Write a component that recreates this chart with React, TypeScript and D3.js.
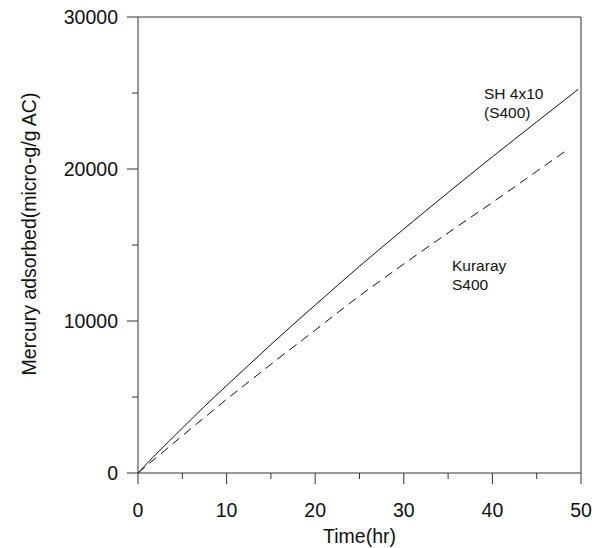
import React from "react";
import * as d3 from "d3";

// Data
const shTime = [0, 1, 2, 3, 5, 7.5, 10, 12.5, 15, 20, 25, 30, 35, 40, 45, 49.7];
const shMercury = [0, 620, 1220, 1800, 2950, 4380, 5750, 7100, 8450, 11050, 13600, 16050, 18450, 20800, 23100, 25250];
const kurTime = [0, 1, 2, 3, 5, 7.5, 10, 12.5, 15, 20, 25, 30, 35, 40, 45, 48.3];
const kurMercury = [0, 500, 980, 1470, 2450, 3650, 4850, 6000, 7150, 9400, 11650, 13750, 15800, 17800, 19850, 21200];

const xMajorTicks = [0, 10, 20, 30, 40, 50];
const xMinorTicks = [5, 15, 25, 35, 45];
const yMajorTicks = [0, 10000, 20000, 30000];
const yMinorTicks = [5000, 15000, 25000];

const xTitle = "Time(hr)";
const yTitle = "Mercury adsorbed(micro-g/g AC)";
const shLabel = ["SH 4x10", "(S400)"];
const kurLabel = ["Kuraray", "S400"];

const W = 607;
const H = 548;
const M = { left: 138, right: 581, top: 17, bottom: 473 };
const FONT = "'Liberation Sans', Arial, Helvetica, sans-serif";
const AXIS = "#333";

export default function App() {
  const x = d3.scaleLinear().domain([0, 50]).range([M.left, M.right]);
  const y = d3.scaleLinear().domain([0, 30000]).range([M.bottom, M.top]);
  const line = d3
    .line<[number, number]>()
    .x((d) => x(d[0]))
    .y((d) => y(d[1]))
    .curve(d3.curveMonotoneX);
  const shPts = shTime.map((t, i) => [t, shMercury[i]] as [number, number]);
  const kurPts = kurTime.map((t, i) => [t, kurMercury[i]] as [number, number]);

  const shX = 484;
  const kurX = 452;

  return (
    <svg
      width={W}
      height={H}
      style={{ position: "absolute", left: 0, top: 0, background: "#fff" }}
      fontFamily={FONT}
    >
      <rect x={0} y={0} width={W} height={H} fill="#fff" />
      {/* frame */}
      <line x1={M.left} x2={M.right} y1={M.top} y2={M.top} stroke={AXIS} strokeWidth={1} />
      <line x1={M.right} x2={M.right} y1={M.top} y2={M.bottom} stroke={AXIS} strokeWidth={1} />
      <line x1={M.left} x2={M.right} y1={M.bottom} y2={M.bottom} stroke={AXIS} strokeWidth={1} />
      <line x1={M.left} x2={M.left} y1={M.top} y2={M.bottom} stroke={AXIS} strokeWidth={1} />

      {/* x ticks */}
      {xMajorTicks.map((t) => (
        <g key={"xm" + t}>
          <line x1={x(t)} x2={x(t)} y1={M.bottom} y2={M.bottom + 11} stroke={AXIS} />
          <text x={x(t)} y={M.bottom + 44} textAnchor="middle" fontSize={19.5} fill="#111">
            {t}
          </text>
        </g>
      ))}
      {xMinorTicks.map((t) => (
        <line key={"xn" + t} x1={x(t)} x2={x(t)} y1={M.bottom} y2={M.bottom + 6} stroke={AXIS} />
      ))}

      {/* y ticks */}
      {yMajorTicks.map((t) => (
        <g key={"ym" + t}>
          <line x1={M.left - 11} x2={M.left} y1={y(t)} y2={y(t)} stroke={AXIS} />
          <text x={M.left - 20} y={y(t)} dy="0.35em" textAnchor="end" fontSize={19.5} fill="#111">
            {t}
          </text>
        </g>
      ))}
      {yMinorTicks.map((t) => (
        <line key={"yn" + t} x1={M.left - 6} x2={M.left} y1={y(t)} y2={y(t)} stroke={AXIS} />
      ))}

      {/* titles */}
      <text x={(M.left + M.right) / 2} y={543} textAnchor="middle" fontSize={19.5} fill="#111">
        {xTitle}
      </text>
      <text
        transform={`translate(36, 234) rotate(-90)`}
        textAnchor="middle"
        fontSize={19.5}
        fill="#111"
      >
        {yTitle}
      </text>

      {/* series */}
      <path d={line(shPts) ?? ""} fill="none" stroke="#111" strokeWidth={1} />
      <path d={line(kurPts) ?? ""} fill="none" stroke="#111" strokeWidth={1} strokeDasharray="9,6" />

      {/* annotations */}
      <text y={99} fontSize={15.5} fill="#111">
        <tspan x={shX}>{shLabel[0]}</tspan>
        <tspan x={shX} dy="1.2em">{shLabel[1]}</tspan>
      </text>
      <text y={271} fontSize={15.5} fill="#111">
        <tspan x={kurX}>{kurLabel[0]}</tspan>
        <tspan x={kurX} dy="1.2em">{kurLabel[1]}</tspan>
      </text>
    </svg>
  );
}
